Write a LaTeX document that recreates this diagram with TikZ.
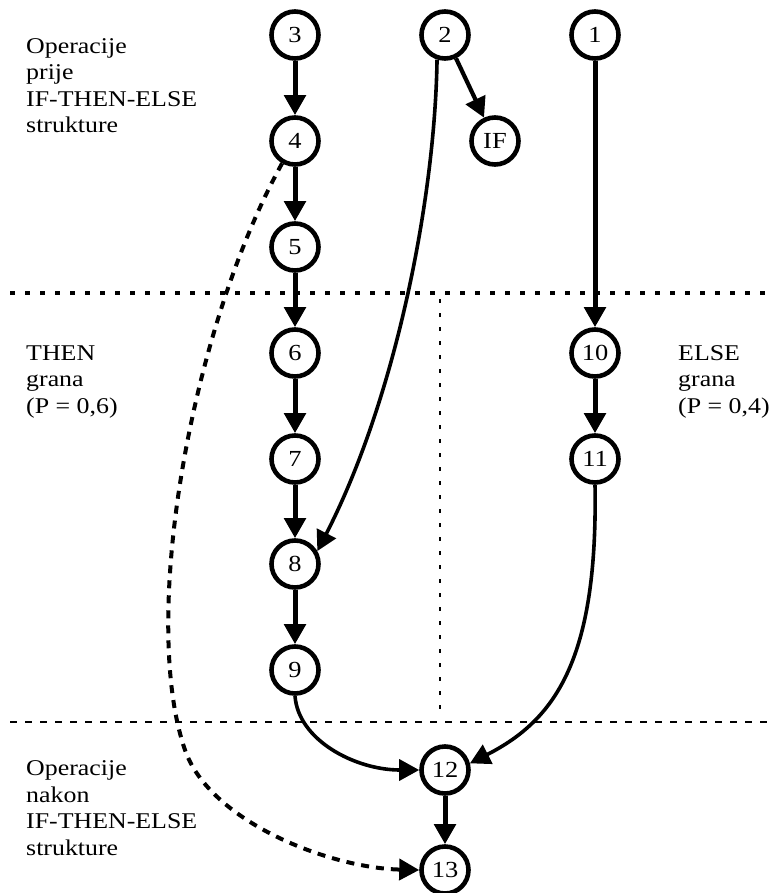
\documentclass[tikz,border=0pt]{standalone}
\usepackage{fontspec}
\setmainfont{Liberation Serif}[FakeStretch=1.15]
\usetikzlibrary{arrows.meta}
\begin{document}
\begin{tikzpicture}[x=1pt,y=-1pt,
  vtx/.style={circle,draw,line width=4.6pt,minimum size=47pt,inner sep=0pt,
    font=\fontsize{23}{26}\selectfont},
  tip/.style={-{Triangle[length=20pt,width=21pt]}},
  arr/.style={line width=5pt,tip},
  carr/.style={line width=3.6pt,tip},
  darr/.style={line width=4pt,dash pattern=on 8pt off 7pt,tip},
  lbl/.style={align=left,anchor=base west,inner sep=0pt,
    font=\fontsize{22.5}{26.5}\selectfont},
  sepA/.style={line width=3.6pt,dash pattern=on 4.5pt off 10.5pt},
  sepB/.style={line width=2.2pt,dash pattern=on 7pt off 8pt},
  sepV/.style={line width=2.2pt,dash pattern=on 4pt off 10pt}]
\useasboundingbox (0,0) rectangle (768,893);

% separators
\draw[sepA] (10,293) -- (768,293);
\draw[sepB] (10,722) -- (768,722);
\draw[sepV] (440,299) -- (440,718);

% labels (anchor at the baseline of the last line)
\node[lbl] (L1) at (26,133) {Operacije\\prije\\IF-THEN-ELSE\\strukture};
\node[lbl] (L2) at (26,413) {THEN\\grana\\(P = 0,6)};
\node[lbl] (L3) at (678,413) {ELSE\\grana\\(P = 0,4)};
\node[lbl] (L4) at (26,855) {Operacije\\nakon\\IF-THEN-ELSE\\strukture};

% nodes
\node[vtx] (n3) at (295,35) {3};
\node[vtx] (n2) at (445,35) {2};
\node[vtx] (n1) at (595,35) {1};
\node[vtx] (n4) at (295,141) {4};
\node[vtx] (nIF) at (495,141) {IF};
\node[vtx] (n5) at (295,247) {5};
\node[vtx] (n6) at (295,353) {6};
\node[vtx] (n10) at (595,353) {10};
\node[vtx] (n7) at (295,459) {7};
\node[vtx] (n11) at (595,459) {11};
\node[vtx] (n8) at (295,564) {8};
\node[vtx] (n9) at (295,670) {9};
\node[vtx] (n12) at (445,770) {12};
\node[vtx] (n13) at (445,870) {13};

% straight arrows
\draw[arr] (n3) -- (n4);
\draw[arr] (n4) -- (n5);
\draw[arr] (n5) -- (n6);
\draw[arr] (n6) -- (n7);
\draw[arr] (n7) -- (n8);
\draw[arr] (n8) -- (n9);
\draw[arr] (n1) -- (n10);
\draw[arr] (n10) -- (n11);
\draw[arr] (n12) -- (n13);
\draw[line width=4.2pt,tip] (n2) -- (nIF);

% curved arrows
\draw[carr] (n2.252) .. controls (435,200) and (395,400) .. (n8.30);
\draw[carr] (n9.south) .. controls (298,740) and (355,770) .. (n12.west);
\draw[carr] (n11.south) .. controls (598,660) and (555,720) .. (n12.15);
\draw[darr] (n4.240) .. controls (190,330) and (140,620) .. (185,750)
  .. controls (210,822) and (330,868) .. (n13.west);
\end{tikzpicture}
\end{document}
